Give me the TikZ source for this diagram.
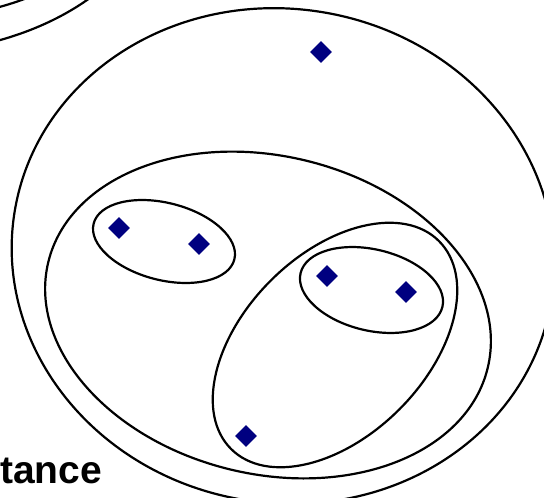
\documentclass[tikz,border=0pt]{standalone}
\usepackage{fontspec}
\setmainfont{Liberation Sans}
\usetikzlibrary{shapes.geometric}
\definecolor{ptnavy}{HTML}{000080}

\begin{document}
\begin{tikzpicture}[x=1pt, y=1pt,
  datapt/.style={diamond, fill=ptnavy, inner sep=0pt, minimum size=22pt},
  ring/.style={draw=black, line width=2.2pt}]
  \useasboundingbox (0,0) rectangle (544,-498);
  \clip (0,0) rectangle (544,-498);

  % clusters seen from outside in
  \draw[ring] (-100,120) ellipse [x radius=259, y radius=173.5];
  \draw[ring] (-100,120) ellipse [x radius=236, y radius=140];
  \draw[ring, rotate around={-10:(283,-256)}] (283,-256) ellipse [x radius=272, y radius=247];
  \draw[ring, rotate around={-13.5:(268,-315)}] (268,-315) ellipse [x radius=226, y radius=159];
  \draw[ring, rotate around={45:(335,-345)}] (335,-345) ellipse [x radius=147, y radius=91];
  \draw[ring, rotate around={-14.3:(164,-241.5)}] (164,-241.5) ellipse [x radius=72.6, y radius=38.6];
  \draw[ring, rotate around={-13.4:(371.5,-290)}] (371.5,-290) ellipse [x radius=72.9, y radius=40.6];

  % points
  \node[datapt] (p0) at (321,-52) {};
  \node[datapt] (p1) at (119,-228) {};
  \node[datapt] (p2) at (199,-244) {};
  \node[datapt] (p3) at (327,-276) {};
  \node[datapt] (p4) at (406,-292) {};
  \node[datapt] (p5) at (246,-436) {};

  \node[anchor=base west, inner sep=0pt, font=\bfseries\fontsize{39}{39}\selectfont] (axislbl) at (0,-483) {tance};
\end{tikzpicture}
\end{document}
